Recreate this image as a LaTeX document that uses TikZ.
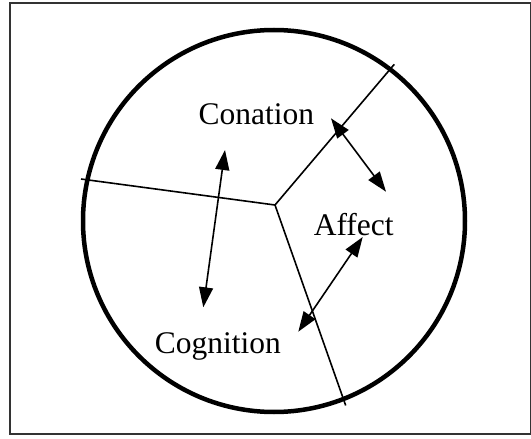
\documentclass[tikz,border=0pt]{standalone}
\usepackage{fontspec}
\setmainfont{Liberation Serif}
\usetikzlibrary{arrows.meta}
\begin{document}
\begin{tikzpicture}[x=1pt,y=-1pt,
  lbl/.style={inner sep=0pt,anchor=base,font=\fontsize{31.5}{36}\selectfont},
  divider/.style={line width=1.6pt,black},
  dblarrow/.style={line width=1.6pt,{Triangle[length=20pt,width=14pt]}-{Triangle[length=20pt,width=14pt]}}]
\useasboundingbox (0,0) rectangle (531,439);
\draw[line width=2pt,black!80] (10,2.5) rectangle (530.5,433.5);
\draw[line width=4.5pt] (274,221) circle[radius=191];
% dividers
\coordinate (ctr) at (275,205);
\coordinate (lend) at (81,179);
\coordinate (uend) at (394.3,64.3);
\coordinate (dend) at (345.7,405.5);
\draw[divider] (lend) -- (ctr) -- (uend);
\draw[divider] (ctr) -- (dend);
% labels
\node[lbl] (conation) at (256.3,124) {Conation};
\node[lbl] (affect) at (353.7,235) {Affect};
\node[lbl] (cognition) at (217.8,353) {Cognition};
% arrow ends
\coordinate (a1) at (225,150);
\coordinate (b1) at (203.3,307.3);
\coordinate (a2) at (331,118.3);
\coordinate (b2) at (386,191.7);
\coordinate (a3) at (362.7,237);
\coordinate (b3) at (298.3,331.7);
\draw[dblarrow] (a1) -- (b1);
\draw[dblarrow] (a2) -- (b2);
\draw[dblarrow] (a3) -- (b3);
\end{tikzpicture}
\end{document}
